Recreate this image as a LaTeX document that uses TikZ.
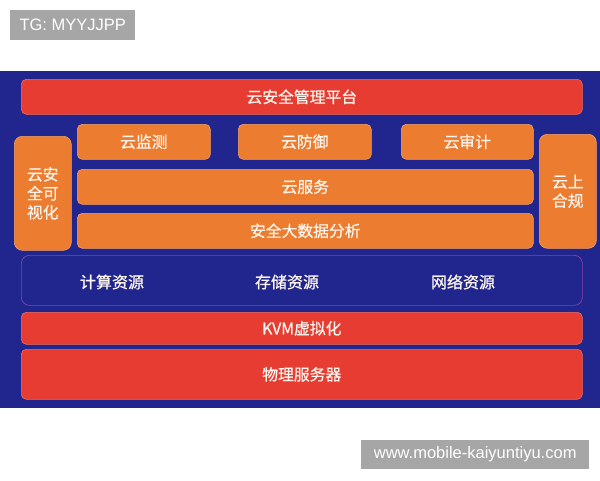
\documentclass[tikz,border=0pt]{standalone}
\usepackage{fontspec}
\setmainfont{Liberation Sans}
\newfontfamily\cjk[FakeBold=0.8]{Noto Sans CJK SC}
\definecolor{bgblue}{RGB}{32,38,142}
\definecolor{barred}{RGB}{230,60,50}
\definecolor{barorange}{RGB}{236,125,48}
\definecolor{orangeedge}{RGB}{244,160,100}
\definecolor{rededge}{RGB}{240,110,90}
\definecolor{resedge}{RGB}{135,70,165}
\definecolor{txt}{RGB}{252,244,236}
\definecolor{badge}{RGB}{166,166,166}
\tikzset{
  redbar/.style={draw=rededge, line width=0.6pt, fill=barred, rounded corners=5pt, anchor=north west, inner sep=0pt, text=txt, font=\cjk\fontsize{15.8}{18}\selectfont},
  orangebox/.style={draw=orangeedge, line width=0.6pt, fill=barorange, rounded corners=5pt, anchor=north west, inner sep=0pt, text=txt, font=\cjk\fontsize{15.8}{18}\selectfont},
  sidebox/.style={orangebox, rounded corners=8pt, align=center, font=\cjk\fontsize{15.8}{19}\selectfont},
  resbox/.style={draw=resedge, line width=0.7pt, fill=bgblue, rounded corners=8pt, anchor=north west, inner sep=0pt},
  restext/.style={text=txt, font=\cjk\fontsize{16}{18}\selectfont, inner sep=0pt},
  badgebox/.style={fill=badge, anchor=north west, inner sep=0pt, text=white, font=\fontsize{16.5}{18}\selectfont}
}
\begin{document}
\begin{tikzpicture}[x=1pt,y=-1pt]
\useasboundingbox (0,0) rectangle (600,480);
\fill[white] (0,0) rectangle (600,480);
\node[fill=bgblue, anchor=north west, minimum width=600pt, minimum height=337pt, inner sep=0pt] (bg) at (0,71) {};
\node[badgebox, minimum width=125pt, minimum height=30pt] (tg) at (10,10) {TG: MYYJJPP};
\node[badgebox, minimum width=228pt, minimum height=29pt] (www) at (361,440) {www.mobile-kaiyuntiyu.com};
% top bar
\node[redbar, minimum width=561pt, minimum height=35pt] (mgmt) at (21,79) {云安全管理平台};
% row 1
\node[orangebox, minimum width=133pt, minimum height=35pt] (jc) at (77,124) {云监测};
\node[orangebox, minimum width=133pt, minimum height=35pt] (fy) at (238,124) {云防御};
\node[orangebox, minimum width=132pt, minimum height=35pt] (sj) at (401,124) {云审计};
% sides
\node[sidebox, minimum width=57pt, minimum height=114pt] (ksh) at (14,136) {云安\\全可\\视化};
\node[sidebox, minimum width=57pt, minimum height=114pt] (hg) at (539,134) {云上\\合规};
% services
\node[orangebox, minimum width=456pt, minimum height=35pt] (fw) at (77,169) {云服务};
\node[orangebox, minimum width=456pt, minimum height=35pt] (dsj) at (77,213) {安全大数据分析};
% resources
\node[resbox, minimum width=561pt, minimum height=50pt] (res) at (21,255) {};
\node[restext] (js) at (112,282) {计算资源};
\node[restext] (cc) at (287,282) {存储资源};
\node[restext] (wl) at (463,282) {网络资源};
% bottom bars
\node[redbar, minimum width=561pt, minimum height=32pt] (kvm) at (21,312) {KVM虚拟化};
\node[redbar, minimum width=561pt, minimum height=50pt] (wlfwq) at (21,349) {物理服务器};
\end{tikzpicture}
\end{document}
